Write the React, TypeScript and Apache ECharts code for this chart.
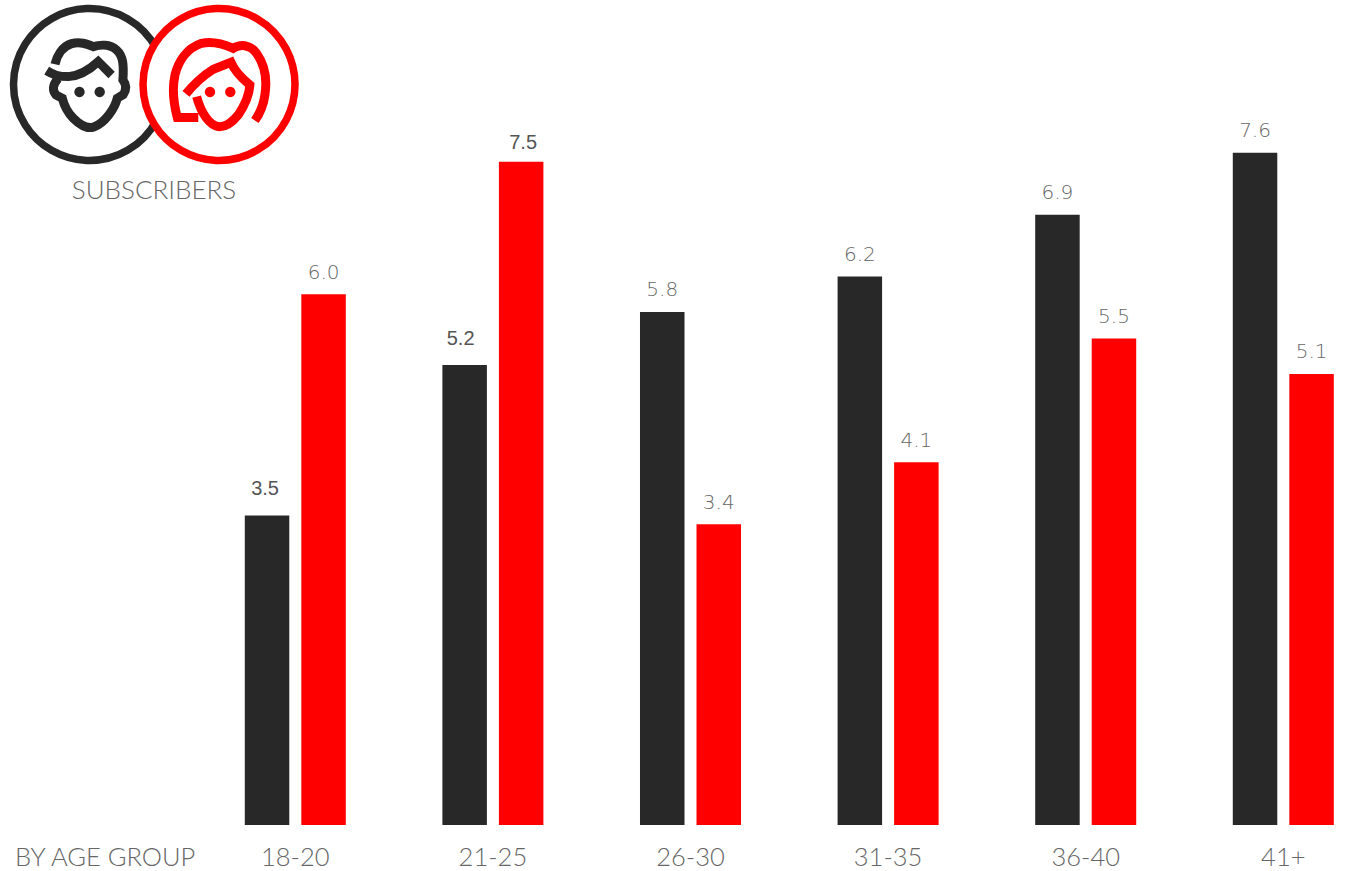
import React, { useEffect, useRef } from "react";
import * as echarts from "echarts";

const ageGroups = ["18-20", "21-25", "26-30", "31-35", "36-40", "41+"];
const maleValues = [3.5, 5.2, 5.8, 6.2, 6.9, 7.6];
const femaleValues = [6.0, 7.5, 3.4, 4.1, 5.5, 5.1];

const DARK = "#282828";
const RED = "#ff0000";
const TEXT_FONT = "Lato, sans-serif";
const VALUE_FONT = "'DejaVu Sans', sans-serif";

const MALE_FACE =
  "M75 103 C80 80 95 50 125 41 C150 34 170 42 190 50 C210 44 240 42 260 60 C280 78 282 105 279 150 " +
  "C290 165 290 180 280 194 L262 205 C255 235 225 280 190 292 C170 297 150 285 130 265 C112 247 102 225 97 205 " +
  "L78 195 C66 180 68 165 84 146 " +
  "M50 122 C70 135 85 140 115 140 C150 138 180 118 205 95 L245 135";
const FEMALE_FACE =
  "M115 263 L52 263 C42 225 35 180 45 135 C55 95 80 55 125 40 C160 32 190 42 220 55 C240 42 270 42 290 70 " +
  "C315 105 322 150 315 195 C311 225 300 250 285 272 " +
  "M78 192 C100 165 125 140 160 118 L213 97 C225 125 245 145 270 165 C268 195 255 225 235 255 " +
  "C215 280 195 292 175 290 C150 285 125 255 110 200";

echarts.graphic.registerShape("maleFace", echarts.graphic.extendPath(MALE_FACE as any, {}) as any);
echarts.graphic.registerShape("femaleFace", echarts.graphic.extendPath(FEMALE_FACE as any, {}) as any);

// Three of the value labels are set in a heavier sans with their own nudge.
const plainLabel = { color: "#666666", fontFamily: VALUE_FONT, fontWeight: 200 as const, fontSize: 20, offset: [0, 0] };
const strongLabel = (dx: number, dy: number) => ({
  color: "#555555",
  fontFamily: "'Liberation Sans', Arial, sans-serif",
  fontWeight: 400 as const,
  fontSize: 20,
  offset: [dx, dy],
});
const maleLabels = [strongLabel(-2, -5), strongLabel(-4, -5), plainLabel, plainLabel, plainLabel, plainLabel];
const femaleLabels = [plainLabel, strongLabel(2, 3), plainLabel, plainLabel, plainLabel, plainLabel];

const icons: any[] = [
  { type: "circle", shape: { cx: 89.5, cy: 84.5, r: 76 }, style: { fill: "#fff", stroke: DARK, lineWidth: 7.5 } },
  { type: "maleFace", x: 30, y: 30, scaleX: 1 / 3, scaleY: 1 / 3, style: { fill: "none", stroke: DARK, lineWidth: 27 } },
  { type: "circle", shape: { cx: 79.5, cy: 92, r: 5.2 }, style: { fill: DARK } },
  { type: "circle", shape: { cx: 99.7, cy: 92, r: 5.2 }, style: { fill: DARK } },
  { type: "circle", shape: { cx: 219, cy: 84.5, r: 76 }, style: { fill: "#fff", stroke: RED, lineWidth: 7.5 } },
  { type: "femaleFace", x: 160, y: 30, scaleX: 1 / 3, scaleY: 1 / 3, style: { fill: "none", stroke: RED, lineWidth: 27 } },
  { type: "circle", shape: { cx: 210, cy: 92, r: 5.2 }, style: { fill: RED } },
  { type: "circle", shape: { cx: 230.3, cy: 92, r: 5.2 }, style: { fill: RED } },
  {
    type: "text",
    x: 154,
    y: 189,
    style: { text: "SUBSCRIBERS", fill: "#666666", font: `300 26px ${TEXT_FONT}`, textAlign: "center", textVerticalAlign: "middle" },
  },
  {
    type: "text",
    x: 15,
    y: 856,
    style: { text: "BY AGE GROUP", fill: "#666666", font: `300 25.5px ${TEXT_FONT}`, textAlign: "left", textVerticalAlign: "middle" },
  },
];

const barSeries = (name: string, color: string, values: number[], labels: any[]) => ({
  name,
  type: "bar",
  barWidth: 44.5,
  barGap: "27%",
  itemStyle: { color },
  data: values.map((value, i) => ({
    value,
    label: { show: true, position: "top", distance: 12.5, formatter: (p: any) => p.value.toFixed(1), ...labels[i] },
  })),
});

export default function App() {
  const ref = useRef<HTMLDivElement>(null);
  useEffect(() => {
    document.body.style.margin = "0";
    const chart = echarts.init(ref.current!, undefined, { renderer: "svg" });
    chart.setOption({
      animation: false,
      backgroundColor: "#ffffff",
      grid: { left: 196.5, top: 117.4, width: 1185.6, height: 707.6 },
      xAxis: {
        type: "category",
        data: ageGroups,
        axisLine: { show: false },
        axisTick: { show: false },
        axisLabel: { color: "#666666", fontFamily: TEXT_FONT, fontWeight: 300, fontSize: 25.5, margin: 18 },
      },
      yAxis: { type: "value", min: 0, max: 8, show: false },
      series: [barSeries("Male", DARK, maleValues, maleLabels), barSeries("Female", RED, femaleValues, femaleLabels)],
      graphic: { elements: icons },
    });
    return () => chart.dispose();
  }, []);
  // The last group's plot cell runs past the page edge, so the canvas is wider than its clipping frame.
  return (
    <div style={{ width: 1346, height: 871, overflow: "hidden" }}>
      <div ref={ref} style={{ width: 1400, height: 871 }} />
    </div>
  );
}
